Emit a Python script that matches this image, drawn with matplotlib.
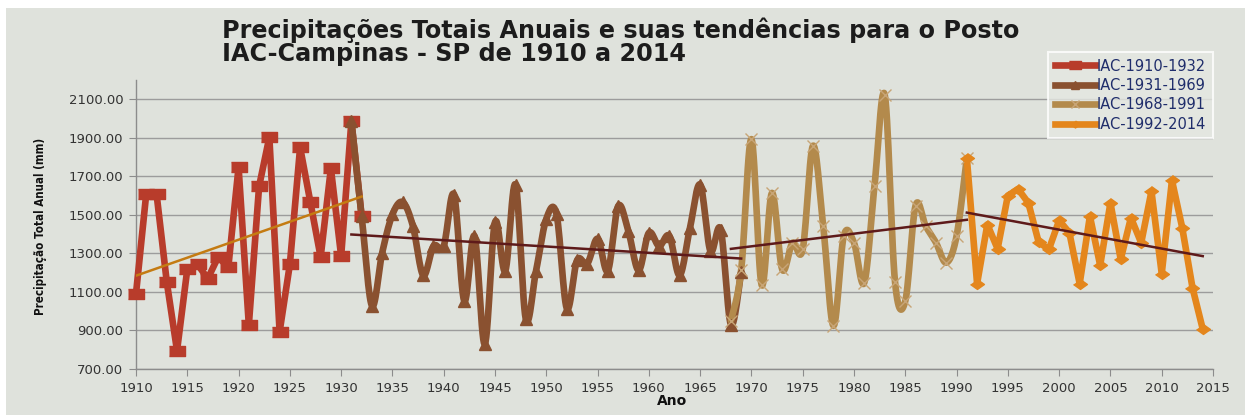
import matplotlib
matplotlib.use("Agg")
import matplotlib.pyplot as plt
import numpy as np
from matplotlib.patches import Rectangle

# annual totals (mm)
years_a = np.arange(1910, 1933)
rain_a = [1091, 1610, 1610, 1152, 795, 1217, 1243, 1169, 1281, 1229, 1747, 929,
          1648, 1903, 893, 1243, 1850, 1566, 1281, 1741, 1286, 1986, 1493]

years_b = np.arange(1931, 1970)
rain_b = [1986, 1493, 1028, 1303, 1502, 1566, 1441, 1186, 1338, 1338, 1605, 1053,
          1390, 829, 1462, 1209, 1657, 959, 1209, 1479, 1502, 1014, 1264, 1247,
          1376, 1209, 1545, 1416, 1212, 1407, 1338, 1390, 1186, 1430, 1657, 1312,
          1424, 930, 1203]

years_c = np.arange(1968, 1992)
rain_c = [950, 1214, 1893, 1135, 1614, 1217, 1355, 1321, 1859, 1441, 924, 1390,
          1355, 1148, 1652, 2122, 1152, 1053, 1548, 1441, 1355, 1252, 1390, 1795]

years_d = np.arange(1991, 2015)
rain_d = [1795, 1143, 1450, 1324, 1600, 1634, 1562, 1359, 1321, 1471, 1407, 1143,
          1493, 1238, 1562, 1269, 1485, 1355, 1622, 1195, 1679, 1433, 1122, 907]

labels = ["IAC-1910-1932", "IAC-1931-1969", "IAC-1968-1991", "IAC-1992-2014"]

BG = "#dfe2dc"
TXT = "#333333"


def smooth(x, y, n=14):
    # excel style smoothed line (catmull-rom as cubic bezier)
    x = np.asarray(x, float)
    y = np.asarray(y, float)
    px, py = [], []
    for i in range(len(x) - 1):
        i0 = max(i - 1, 0)
        i3 = min(i + 2, len(x) - 1)
        c1x = x[i] + (x[i + 1] - x[i0]) / 6
        c1y = y[i] + (y[i + 1] - y[i0]) / 6
        c2x = x[i + 1] - (x[i3] - x[i]) / 6
        c2y = y[i + 1] - (y[i3] - y[i]) / 6
        t = np.linspace(0, 1, n, endpoint=False)
        a, b, c, d = (1 - t) ** 3, 3 * (1 - t) ** 2 * t, 3 * (1 - t) * t ** 2, t ** 3
        px.extend(a * x[i] + b * c1x + c * c2x + d * x[i + 1])
        py.extend(a * y[i] + b * c1y + c * c2y + d * y[i + 1])
    px.append(x[-1])
    py.append(y[-1])
    return np.array(px), np.array(py)


fig = plt.figure(figsize=(12.45, 4.15), dpi=100, facecolor="white")
fig.patches.append(Rectangle((6 / 1245, 0), 1, 1 - 8 / 415, transform=fig.transFigure,
                             facecolor=BG, edgecolor="none", zorder=-10))

ax = fig.add_axes([136 / 1245, 1 - 369 / 415, (1213 - 136) / 1245, (369 - 80) / 415])
ax.set_facecolor(BG)

rect = [(-1.5, -1), (1.5, -1), (1.5, 1), (-1.5, 1)]
diamond = [(-1.4, 0), (0, -1), (1.4, 0), (0, 1)]
lw = 4.8

series = [
    (years_a, rain_a, "#b83c2b", rect, 11, False),
    (years_b, rain_b, "#8a5130", "^", 9, True),
    (years_c, rain_c, "#b38a4c", "x", 9, True),
    (years_d, rain_d, "#e4861c", diamond, 10, False),
]
trend_colors = ["#c47b12", "#5e1a1a", "#5e1a1a", "#5e1a1a"]

handles = []
for (yrs, vals, col, mk, ms, sm), lab, tcol in zip(series, labels, trend_colors):
    if sm:
        sx, sy = smooth(yrs, vals)
    else:
        sx, sy = np.asarray(yrs), np.asarray(vals)
    ax.plot(sx, sy, color=col, lw=lw, solid_joinstyle="round", solid_capstyle="round",
            zorder=3, clip_on=False)
    if mk == "x":
        ax.plot(yrs, vals, ls="none", marker="x", ms=ms, mew=1.0, color="#c8a577",
                zorder=4, clip_on=False)
    else:
        ax.plot(yrs, vals, ls="none", marker=mk, ms=ms, color=col, mec=col,
                zorder=4, clip_on=False)
    k, b = np.polyfit(yrs, vals, 1)
    tx = np.array([yrs[0], yrs[-1]])
    ax.plot(tx, k * tx + b, color=tcol, lw=1.8, zorder=5)
    h, = ax.plot([], [], color=col, lw=lw, marker=mk, ms=(ms - 3), mew=1.0,
                 mec=("#c8a577" if mk == "x" else col), label=lab)
    handles.append(h)

ax.set_xlim(1910, 2015)
ax.set_ylim(700, 2200)
ax.set_xticks(np.arange(1910, 2016, 5))
ax.set_yticks(np.arange(700, 2101, 200))
ax.set_yticklabels([f"{v:.2f}" for v in np.arange(700, 2101, 200)])
ax.grid(axis="y", color="#9c9c9c", lw=1.0)
ax.set_axisbelow(True)
for s in ["top", "right"]:
    ax.spines[s].set_visible(False)
for s in ["left", "bottom"]:
    ax.spines[s].set_color("#8c8c8c")
    ax.spines[s].set_linewidth(1.0)
ax.tick_params(direction="out", length=5, color="#8c8c8c", labelsize=9.5,
               labelcolor=TXT, pad=4)

fig.text(222 / 1245, 1 - 38 / 415,
         "Precipitações Totais Anuais e suas tendências para o Posto",
         ha="left", va="baseline", fontsize=17.2, fontweight="bold", color="#1c1c1c")
fig.text(222 / 1245, 1 - 61 / 415, "IAC-Campinas - SP de 1910 a 2014",
         ha="left", va="baseline", fontsize=17.2, fontweight="bold", color="#1c1c1c")

fig.text(41 / 1245, 1 - 226 / 415, "Precipitação Total Anual (mm)", rotation=90,
         ha="center", va="center", fontsize=8.3, fontweight="bold",
         fontstretch="condensed", color="#111111")
fig.text(672 / 1245, 1 - 401 / 415, "Ano", ha="center", va="center",
         fontsize=10, fontweight="bold", color="#111111")

leg = fig.legend(handles=handles, loc="upper left",
                 bbox_to_anchor=(1048 / 1245, 1 - 52 / 415), borderaxespad=0,
                 fontsize=10.5, handlelength=2.8, handletextpad=0.1,
                 labelspacing=0.3, borderpad=0.45, frameon=True, fancybox=False)
leg.get_frame().set_facecolor("#e5e8e2")
leg.get_frame().set_edgecolor("white")
leg.get_frame().set_linewidth(1.5)
for t in leg.get_texts():
    t.set_color("#1f2d6b")

fig.savefig("out.png", dpi=100, facecolor=fig.get_facecolor())
